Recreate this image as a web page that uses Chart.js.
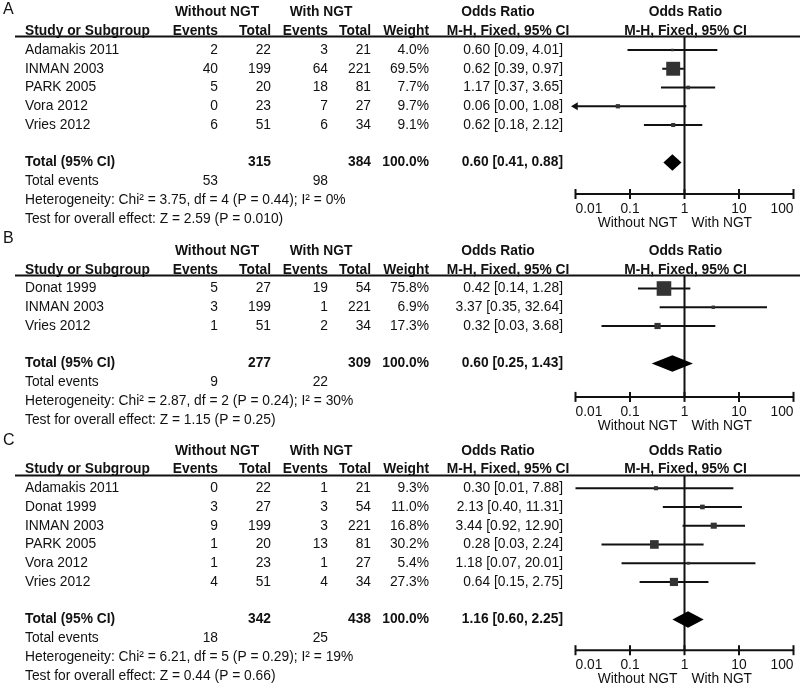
<!DOCTYPE html>
<html>
<head>
<meta charset="utf-8">
<script src="https://cdn.jsdelivr.net/npm/chart.js@4"></script>
<style>
  html, body { margin: 0; padding: 0; background: #fff; }
  #wrap { position: relative; width: 800px; height: 691px; overflow: hidden; }
  #wrap canvas { position: absolute; left: 0; }
</style>
</head>
<body>
<div id="wrap">
  <canvas id="chartA" width="800" height="232" style="top:0px"></canvas>
  <canvas id="chartB" width="800" height="210" style="top:225px"></canvas>
  <canvas id="chartC" width="800" height="268" style="top:423px"></canvas>
</div>
<script>
// ---- data: panel A ----
const aStudies = ['Adamakis 2011', 'INMAN 2003', 'PARK 2005', 'Vora 2012', 'Vries 2012'];
const aEventsNo = [2, 40, 5, 0, 6];
const aTotalNo = [22, 199, 20, 23, 51];
const aEventsNgt = [3, 64, 18, 7, 6];
const aTotalNgt = [21, 221, 81, 27, 34];
const aWeight = [4.0, 69.5, 7.7, 9.7, 9.1];
const aOR = [0.60, 0.62, 1.17, 0.06, 0.62];
const aLow = [0.09, 0.39, 0.37, 0.00, 0.18];
const aHigh = [4.01, 0.97, 3.65, 1.08, 2.12];
const aTotals = [315, 384];
const aTotalEvents = [53, 98];
const aPooled = [0.60, 0.41, 0.88];
const aHet = 'Heterogeneity: Chi² = 3.75, df = 4 (P = 0.44); I² = 0%';
const aTest = 'Test for overall effect: Z = 2.59 (P = 0.010)';

// ---- data: panel B ----
const bStudies = ['Donat 1999', 'INMAN 2003', 'Vries 2012'];
const bEventsNo = [5, 3, 1];
const bTotalNo = [27, 199, 51];
const bEventsNgt = [19, 1, 2];
const bTotalNgt = [54, 221, 34];
const bWeight = [75.8, 6.9, 17.3];
const bOR = [0.42, 3.37, 0.32];
const bLow = [0.14, 0.35, 0.03];
const bHigh = [1.28, 32.64, 3.68];
const bTotals = [277, 309];
const bTotalEvents = [9, 22];
const bPooled = [0.60, 0.25, 1.43];
const bHet = 'Heterogeneity: Chi² = 2.87, df = 2 (P = 0.24); I² = 30%';
const bTest = 'Test for overall effect: Z = 1.15 (P = 0.25)';

// ---- data: panel C ----
const cStudies = ['Adamakis 2011', 'Donat 1999', 'INMAN 2003', 'PARK 2005', 'Vora 2012', 'Vries 2012'];
const cEventsNo = [0, 3, 9, 1, 1, 4];
const cTotalNo = [22, 27, 199, 20, 23, 51];
const cEventsNgt = [1, 3, 3, 13, 1, 4];
const cTotalNgt = [21, 54, 221, 81, 27, 34];
const cWeight = [9.3, 11.0, 16.8, 30.2, 5.4, 27.3];
const cOR = [0.30, 2.13, 3.44, 0.28, 1.18, 0.64];
const cLow = [0.01, 0.40, 0.92, 0.03, 0.07, 0.15];
const cHigh = [7.88, 11.31, 12.90, 2.24, 20.01, 2.75];
const cTotals = [342, 438];
const cTotalEvents = [18, 25];
const cPooled = [1.16, 0.60, 2.25];
const cHet = 'Heterogeneity: Chi² = 6.21, df = 5 (P = 0.29); I² = 19%';
const cTest = 'Test for overall effect: Z = 0.44 (P = 0.66)';

// ---- axis / headers ----
const tickValues = [0.01, 0.1, 1, 10, 100];
const tickLabels = ['0.01', '0.1', '1', '10', '100'];
const groupHeaders = ['Without NGT', 'With NGT'];
const colHeaders = ['Study or Subgroup', 'Events', 'Total', 'Events', 'Total', 'Weight', 'M-H, Fixed, 95% CI'];
const plotTitle = ['Odds Ratio', 'M-H, Fixed, 95% CI'];
const favourLabels = ['Without NGT', 'With NGT'];

// ---- layout ----
const SP = 18.75; // row height
const FONT = '"Liberation Sans", Arial, Helvetica, sans-serif';
const NORMAL = '13.8px ' + FONT;
const BOLD = 'bold 13.8px ' + FONT;
const INK = '#111';
const COL = { name: 25, evNo: 218, totNo: 271, evNgt: 328, totNgt: 371, weight: 429, or: 563, orHead: 508, noHead: 217, ngtHead: 321, orTitle: 498 };

function orText(v, lo, hi) {
  return v.toFixed(2) + ' [' + lo.toFixed(2) + ', ' + hi.toFixed(2) + ']';
}
// box side grows with study weight; 'rect' point side = radius * sqrt(2)
function boxRadius(w) {
  const side = Math.max(2.5, 1.85 * Math.sqrt(w) - 1.5);
  return side / (2 * Math.SQRT1_2);
}

function buildPanel(canvasId, letter, d, lay) {
  const canvas = document.getElementById(canvasId);
  const H = canvas.height;
  const n = d.studies.length;
  const studyRow = (i) => i + 2;
  const totalRow = n + 3, eventsRow = n + 4, hetRow = n + 5, testRow = n + 6;
  const xMin = tickValues[0], xMax = tickValues[tickValues.length - 1];

  const datasets = [];
  // point estimates
  datasets.push({
    data: d.or.map((v, i) => ({ x: v, y: studyRow(i) })),
    pointStyle: 'rect',
    pointRadius: d.weight.map(boxRadius),
    pointBackgroundColor: '#333',
    pointBorderWidth: 0,
    showLine: false,
    order: 0,
    clip: false,
  });
  // confidence intervals (arrow when the interval runs off the scale)
  d.low.forEach((lo, i) => {
    const cut = lo < xMin;
    datasets.push({
      data: [{ x: Math.max(lo, xMin), y: studyRow(i) }, { x: Math.min(d.high[i], xMax), y: studyRow(i) }],
      showLine: true,
      borderColor: INK,
      borderWidth: 2,
      pointStyle: 'triangle',
      pointRotation: -90,
      pointRadius: [cut ? 4.5 : 0, 0],
      pointBackgroundColor: INK,
      pointBorderWidth: 0,
      order: 1,
      clip: false,
    });
  });
  // line of no effect
  datasets.push({
    data: [{ x: 1, y: lay.ruleRow }, { x: 1, y: lay.axisRow }],
    showLine: true, borderColor: INK, borderWidth: 2, pointRadius: 0, order: 2, clip: false,
  });
  // x axis line
  datasets.push({
    data: [{ x: xMin, y: lay.axisRow }, { x: xMax, y: lay.axisRow }],
    showLine: true, borderColor: INK, borderWidth: 2, pointRadius: 0, order: 2, clip: false,
  });

  const table = {
    id: 'table' + letter,
    afterDatasetsDraw(chart) {
      const { ctx } = chart;
      const x = chart.scales.x, y = chart.scales.y;
      const [est, lo, hi] = d.pooled;
      const yc = y.getPixelForValue(totalRow);
      const hh = y.getPixelForValue(totalRow + 0.44) - yc;
      ctx.save();
      ctx.fillStyle = '#000';
      ctx.beginPath();
      ctx.moveTo(x.getPixelForValue(lo), yc);
      ctx.lineTo(x.getPixelForValue(est), yc - hh);
      ctx.lineTo(x.getPixelForValue(hi), yc);
      ctx.lineTo(x.getPixelForValue(est), yc + hh);
      ctx.closePath();
      ctx.fill();
      ctx.restore();
    },
    afterDraw(chart) {
      const { ctx } = chart;
      const x = chart.scales.x, y = chart.scales.y;
      const one = x.getPixelForValue(1);
      const t = (str, px, row, align, bold) => {
        ctx.font = bold ? BOLD : NORMAL;
        ctx.textAlign = align;
        ctx.fillText(String(str), px, y.getPixelForValue(row));
      };
      ctx.save();
      ctx.fillStyle = INK;
      ctx.textBaseline = 'middle';

      // panel letter
      ctx.font = '16px ' + FONT;
      ctx.textAlign = 'left';
      ctx.fillText(letter, 3, lay.letterY);

      // group header row
      t(groupHeaders[0], COL.noHead, 0, 'center', true);
      t(groupHeaders[1], COL.ngtHead, 0, 'center', true);
      t(plotTitle[0], COL.orTitle, 0, 'center', true);
      t(plotTitle[0], one + 1, 0, 'center', true);
      // column header row
      t(colHeaders[0], COL.name, 1, 'left', true);
      t(colHeaders[1], COL.evNo, 1, 'right', true);
      t(colHeaders[2], COL.totNo, 1, 'right', true);
      t(colHeaders[3], COL.evNgt, 1, 'right', true);
      t(colHeaders[4], COL.totNgt, 1, 'right', true);
      t(colHeaders[5], COL.weight, 1, 'right', true);
      t(colHeaders[6], COL.orHead, 1, 'center', true);
      t(plotTitle[1], one + 1, 1, 'center', true);

      // header rule
      const ry = Math.round(y.getPixelForValue(lay.ruleRow)) + 0.5;
      ctx.strokeStyle = INK;
      ctx.lineWidth = 1.8;
      ctx.beginPath();
      ctx.moveTo(15, ry);
      ctx.lineTo(800, ry);
      ctx.stroke();

      // studies
      d.studies.forEach((s, i) => {
        const r = studyRow(i);
        t(s, COL.name, r, 'left');
        t(d.evNo[i], COL.evNo, r, 'right');
        t(d.totNo[i], COL.totNo, r, 'right');
        t(d.evNgt[i], COL.evNgt, r, 'right');
        t(d.totNgt[i], COL.totNgt, r, 'right');
        t(d.weight[i].toFixed(1) + '%', COL.weight, r, 'right');
        t(orText(d.or[i], d.low[i], d.high[i]), COL.or, r, 'right');
      });

      // totals
      t('Total (95% CI)', COL.name, totalRow, 'left', true);
      t(d.totals[0], COL.totNo, totalRow, 'right', true);
      t(d.totals[1], COL.totNgt, totalRow, 'right', true);
      t('100.0%', COL.weight, totalRow, 'right', true);
      t(orText(d.pooled[0], d.pooled[1], d.pooled[2]), COL.or, totalRow, 'right', true);
      t('Total events', COL.name, eventsRow, 'left');
      t(d.events[0], COL.evNo, eventsRow, 'right');
      t(d.events[1], COL.evNgt, eventsRow, 'right');
      t(d.het, COL.name, hetRow, 'left');
      t(d.test, COL.name, testRow, 'left');

      // axis ticks and labels (end labels kept inside the axis)
      const ay = y.getPixelForValue(lay.axisRow);
      ctx.lineWidth = 2;
      ctx.font = NORMAL;
      tickValues.forEach((v, i) => {
        const px = x.getPixelForValue(v);
        ctx.beginPath();
        ctx.moveTo(px, ay - 5);
        ctx.lineTo(px, ay + 5);
        ctx.stroke();
        ctx.textAlign = i === 0 ? 'left' : (i === tickValues.length - 1 ? 'right' : 'center');
        ctx.fillText(tickLabels[i], px, ay + 15);
      });
      ctx.textAlign = 'right';
      ctx.fillText(favourLabels[0], one - 7, ay + 29);
      ctx.textAlign = 'left';
      ctx.fillText(favourLabels[1], one + 7, ay + 29);
      ctx.restore();
    },
  };

  return new Chart(canvas, {
    type: 'scatter',
    data: { datasets },
    options: {
      responsive: false,
      animation: false,
      events: [],
      layout: { autoPadding: false, padding: { left: 575.5, right: 6.5, top: 0, bottom: 0 } },
      plugins: { legend: { display: false }, tooltip: { enabled: false } },
      scales: {
        x: { type: 'logarithmic', min: xMin, max: xMax, display: false },
        y: { type: 'linear', min: -lay.row0 / SP, max: (H - lay.row0) / SP, reverse: true, display: false },
      },
    },
    plugins: [table],
  });
}

buildPanel('chartA', 'A', {
  studies: aStudies, evNo: aEventsNo, totNo: aTotalNo, evNgt: aEventsNgt, totNgt: aTotalNgt,
  weight: aWeight, or: aOR, low: aLow, high: aHigh,
  totals: aTotals, events: aTotalEvents, pooled: aPooled, het: aHet, test: aTest,
}, { row0: 12.5, ruleRow: 1.25, axisRow: 9.68, letterY: 9.5 });

buildPanel('chartB', 'B', {
  studies: bStudies, evNo: bEventsNo, totNo: bTotalNo, evNgt: bEventsNgt, totNgt: bTotalNgt,
  weight: bWeight, or: bOR, low: bLow, high: bHigh,
  totals: bTotals, events: bTotalEvents, pooled: bPooled, het: bHet, test: bTest,
}, { row0: 26, ruleRow: 1.3, axisRow: 7.78, letterY: 14 });

buildPanel('chartC', 'C', {
  studies: cStudies, evNo: cEventsNo, totNo: cTotalNo, evNgt: cEventsNgt, totNgt: cTotalNgt,
  weight: cWeight, or: cOR, low: cLow, high: cHigh,
  totals: cTotals, events: cTotalEvents, pooled: cPooled, het: cHet, test: cTest,
}, { row0: 27.7, ruleRow: 1.29, axisRow: 10.64, letterY: 17.5 });
</script>
</body>
</html>
